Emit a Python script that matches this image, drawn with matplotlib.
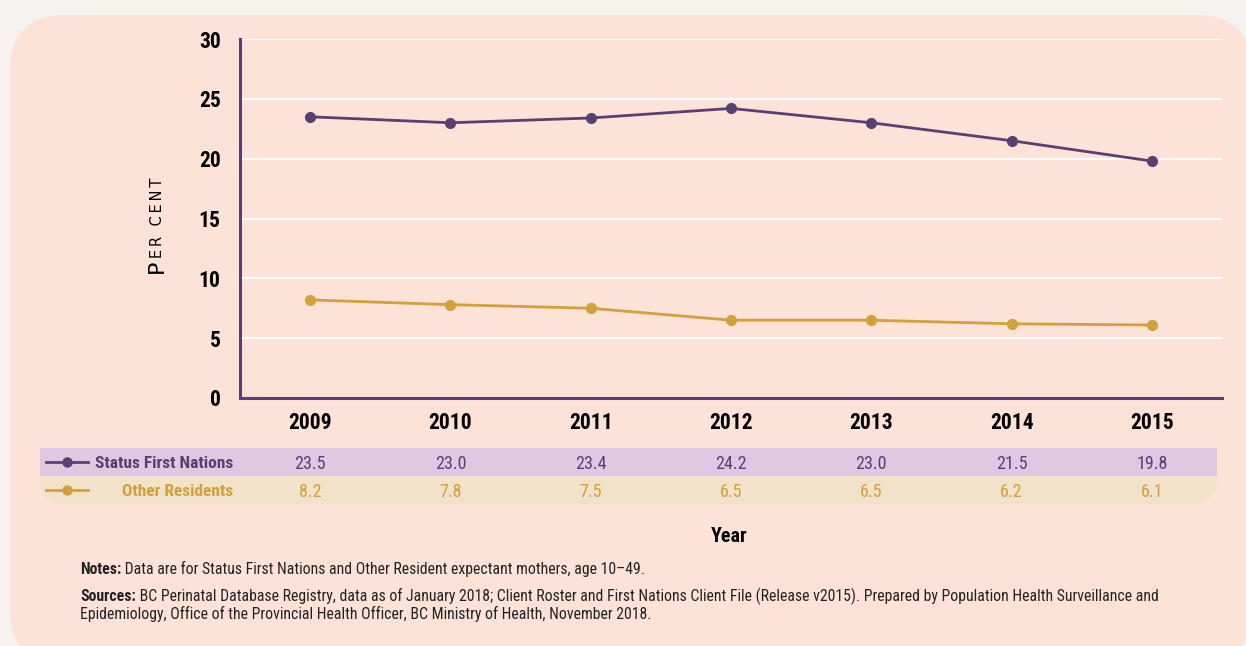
import matplotlib
matplotlib.use("Agg")
import matplotlib.pyplot as plt
import matplotlib.patches as mpatches
import matplotlib.transforms as mtransforms
from matplotlib.lines import Line2D

years = [2009, 2010, 2011, 2012, 2013, 2014, 2015]
first_nations = [23.5, 23.0, 23.4, 24.2, 23.0, 21.5, 19.8]
other_residents = [8.2, 7.8, 7.5, 6.5, 6.5, 6.2, 6.1]
series_names = ["Status First Nations", "Other Residents"]
y_ticks = [0, 5, 10, 15, 20, 25, 30]

notes = ("Notes:", " Data are for Status First Nations and Other Resident expectant mothers, age 10\u201349.")
sources = ("Sources:", " BC Perinatal Database Registry, data as of January 2018; Client Roster and First Nations "
           "Client File (Release v2015). Prepared by Population Health Surveillance and")
sources2 = "Epidemiology, Office of the Provincial Health Officer, BC Ministry of Health, November 2018."

PURPLE = "#5a3f72"
GOLD = "#d3a03a"
PANEL = "#fde2d8"
OUTER = "#f5f2ef"

# condensed face if there is one, else plain Roboto
NARROW = ["Roboto Condensed", "Liberation Sans Narrow", "Roboto"]

W, H = 1246, 646
fig = plt.figure(figsize=(W / 100, H / 100), dpi=100)
fig.patch.set_facecolor(OUTER)


def fx(px):
    return px / W


def fy(py):
    return 1 - py / H


# background panel with rounded corners
panel = mpatches.FancyBboxPatch((fx(10), fy(664)), fx(1252) - fx(10), fy(15) - fy(664),
                                boxstyle="round,pad=0,rounding_size=0.045",
                                transform=fig.transFigure, facecolor=PANEL,
                                edgecolor="none", mutation_aspect=W / H, zorder=-2)
fig.patches.append(panel)

ax = fig.add_axes([fx(240), fy(398), fx(1222) - fx(240), fy(39) - fy(398)])
ax.set_zorder(5)
ax.set_facecolor("none")
ax.set_xlim(2008.5, 2015.5)
ax.set_ylim(0, 30)
ax.set_yticks(y_ticks)
ax.set_xticks(years)
ax.grid(axis="y", color="white", linewidth=1.5)
ax.set_axisbelow(True)
for s in ["top", "right"]:
    ax.spines[s].set_visible(False)
for s in ["left", "bottom"]:
    ax.spines[s].set_color(PURPLE)
    ax.spines[s].set_linewidth(2.2)
ax.tick_params(length=0)
ax.tick_params(axis="y", pad=14)
ax.tick_params(axis="x", pad=10)
for lab in ax.get_yticklabels() + ax.get_xticklabels():
    lab.set_fontfamily(NARROW)
    lab.set_fontweight("bold")
    lab.set_fontsize(15.5)
    lab.set_color("black")

ax.plot(years, first_nations, color=PURPLE, linewidth=2, marker="o", markersize=7, clip_on=False)
ax.plot(years, other_residents, color=GOLD, linewidth=2, marker="o", markersize=7, clip_on=False)

# y label in small caps
fig.text(fx(167), fy(273), "P", rotation=90, ha="right", va="bottom", fontsize=16,
         color="black", family="DejaVu Sans")
fig.text(fx(165), fy(258), "E\u2009R\u2009 \u2009C\u2009E\u2009N\u2009T", rotation=90,
         ha="right", va="bottom", fontsize=10.5, color="black", family="DejaVu Sans")

# data table under the chart
band = mpatches.FancyBboxPatch((fx(40), fy(504)), fx(1217) - fx(40), fy(448) - fy(504),
                               boxstyle="round,pad=0,rounding_size=0.02",
                               transform=fig.transFigure, facecolor="#f2e2ca",
                               edgecolor="none", mutation_aspect=W / H, zorder=1)
fig.patches.append(band)
fig.patches.append(mpatches.Rectangle((fx(40), fy(476)), fx(1217) - fx(40), fy(448) - fy(476),
                                      transform=fig.transFigure, facecolor="#e0c8e2",
                                      edgecolor="none", zorder=2))

trans = mtransforms.blended_transform_factory(ax.transData, fig.transFigure)
rows = [(first_nations, PURPLE, 462), (other_residents, GOLD, 490)]
for name, (vals, col, ypx) in zip(series_names, rows):
    fig.lines.append(Line2D([fx(46), fx(88)], [fy(ypx), fy(ypx)], transform=fig.transFigure,
                            color=col, linewidth=2, zorder=3))
    fig.lines.append(Line2D([fx(67)], [fy(ypx)], transform=fig.transFigure,
                            color=col, marker="o", markersize=6.5, zorder=3))
    fig.text(fx(233), fy(ypx), name, ha="right", va="center_baseline", fontsize=12.5,
             fontweight="bold", color=col, family=NARROW, zorder=3)
    for x, v in zip(years, vals):
        ax.text(x, fy(ypx), f"{v:.1f}", transform=trans, ha="center", va="center_baseline",
                fontsize=13, color=col, family=NARROW, zorder=3, clip_on=False)

fig.text(fx(729), fy(536), "Year", ha="center", va="center", fontsize=14.5,
         fontweight="bold", family=NARROW, color="black")

renderer = fig.canvas.get_renderer()


def note_line(ypx, bold, rest):
    t = fig.text(fx(80), fy(ypx), bold, ha="left", va="baseline", fontsize=11.3,
                 fontweight="bold", family=NARROW, color="#222222")
    bb = t.get_window_extent(renderer)
    fig.text(bb.x1 / fig.bbox.width, fy(ypx), rest, ha="left", va="baseline", fontsize=11.3,
             family=NARROW, color="#222222")


note_line(574, *notes)
note_line(601, *sources)
fig.text(fx(80), fy(619), sources2, ha="left", va="baseline", fontsize=11.3,
         family=NARROW, color="#222222")

fig.savefig("out.png", dpi=100, facecolor=fig.get_facecolor())
